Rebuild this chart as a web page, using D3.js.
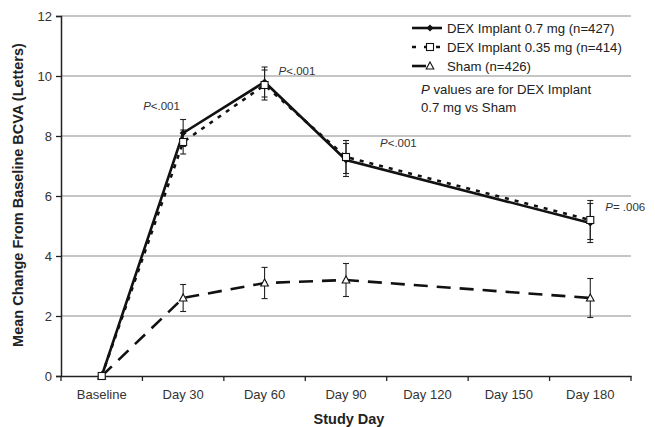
<!DOCTYPE html>
<html>
<head>
<meta charset="utf-8">
<script src="https://cdn.jsdelivr.net/npm/d3@7"></script>
<style>
  body { margin: 0; background: #fff; }
  svg { display: block; font-family: 'Liberation Sans', Arial, sans-serif; }
</style>
</head>
<body>
<div id="chart"></div>
<script>
// Categories on the x axis
const categories = ['Baseline', 'Day 30', 'Day 60', 'Day 90', 'Day 120', 'Day 150', 'Day 180'];
// Days where a measurement exists
const measuredDays = ['Baseline', 'Day 30', 'Day 60', 'Day 90', 'Day 180'];

// Mean change from baseline BCVA (letters)
const dex07 = [0, 8.1, 9.8, 7.2, 5.1];
const dex035 = [0, 7.8, 9.7, 7.3, 5.2];
const sham = [0, 2.6, 3.1, 3.2, 2.6];

// Error bar half-widths
const dex07Err = [0, 0.45, 0.5, 0.55, 0.65];
const dex035Err = [0, 0.4, 0.5, 0.55, 0.65];
const shamErr = [0, 0.45, 0.52, 0.55, 0.65];

const yTicks = [0, 2, 4, 6, 8, 10, 12];
const legendLabels = ['DEX Implant 0.7 mg (n=427)', 'DEX Implant 0.35 mg (n=414)', 'Sham (n=426)'];

// P value annotations
const pDays = ['Day 30', 'Day 60', 'Day 90', 'Day 180'];
const pTexts = ['<.001', '<.001', '<.001', '= .006'];
const pValues = [8.87, 10.03, 7.63, 5.5];

const svgWidth = 655;
const svgHeight = 427;
const margin = { top: 16, right: 24, bottom: 51, left: 61 };
const width = svgWidth - margin.left - margin.right;
const height = svgHeight - margin.top - margin.bottom;

const svg = d3.select('#chart')
  .append('svg')
  .attr('width', svgWidth)
  .attr('height', svgHeight);

const chartGroup = svg.append('g')
  .attr('transform', `translate(${margin.left}, ${margin.top})`);

const xScale = d3.scaleBand()
  .domain(categories)
  .range([0, width]);

const yScale = d3.scaleLinear()
  .domain([0, 12])
  .range([height, 0]);

const xc = d => xScale(d) + xScale.bandwidth() / 2;

// Gridlines
chartGroup.selectAll('.grid')
  .data(yTicks.filter(t => t > 0))
  .enter()
  .append('line')
  .attr('x1', 0)
  .attr('x2', width)
  .attr('y1', d => yScale(d))
  .attr('y2', d => yScale(d))
  .attr('stroke', '#8c8c8c')
  .attr('stroke-width', 1.2);

// Y axis
const leftAxis = d3.axisLeft(yScale).tickValues(yTicks).tickSize(5).tickPadding(4);
const yAxis = chartGroup.append('g').call(leftAxis);
yAxis.select('.domain').attr('stroke', '#222').attr('stroke-width', 1.5);
yAxis.selectAll('.tick line').attr('stroke', '#222').attr('stroke-width', 1.3);
yAxis.selectAll('text').attr('font-size', '13px').attr('fill', '#333')
  .attr('font-family', "'Liberation Sans', Arial, sans-serif");

// X axis
const bottomAxis = d3.axisBottom(xScale).tickSize(0).tickPadding(14);
const xAxis = chartGroup.append('g')
  .attr('transform', `translate(0, ${height})`)
  .call(bottomAxis);
xAxis.select('.domain').attr('stroke', '#222').attr('stroke-width', 1.5);
xAxis.selectAll('text').attr('font-size', '13px').attr('fill', '#333')
  .attr('font-family', "'Liberation Sans', Arial, sans-serif");

// Tick marks between categories
xAxis.selectAll('.bound')
  .data(d3.range(categories.length + 1))
  .enter()
  .append('line')
  .attr('x1', i => i * xScale.step())
  .attr('x2', i => i * xScale.step())
  .attr('y1', 0)
  .attr('y2', 5)
  .attr('stroke', '#222')
  .attr('stroke-width', 1.3);

// Axis titles
chartGroup.append('text')
  .attr('x', width / 2 + 3)
  .attr('y', height + 48)
  .attr('text-anchor', 'middle')
  .attr('font-size', '14.5px')
  .attr('font-weight', 'bold')
  .attr('fill', '#222')
  .text('Study Day');

chartGroup.append('text')
  .attr('transform', `translate(${-38}, ${height / 2 - 1}) rotate(-90)`)
  .attr('text-anchor', 'middle')
  .attr('font-size', '14.5px')
  .attr('font-weight', 'bold')
  .attr('fill', '#222')
  .text('Mean Change From Baseline BCVA (Letters)');

// Series definitions
const series = [
  { values: dex07, err: dex07Err, dash: null, marker: 'diamond' },
  { values: dex035, err: dex035Err, dash: '4,6', marker: 'square' },
  { values: sham, err: shamErr, dash: '14,9', marker: 'triangle' }
];

const line = d3.line()
  .x(d => xc(d.day))
  .y(d => yScale(d.value));

const pointsOf = s => measuredDays.map((day, i) => ({ day: day, value: s.values[i], err: s.err[i] }));

// Lines (sham first, solid on top)
[2, 1, 0].forEach(k => {
  const s = series[k];
  chartGroup.append('path')
    .datum(pointsOf(s))
    .attr('d', line)
    .attr('fill', 'none')
    .attr('stroke', '#111')
    .attr('stroke-width', 2.6)
    .attr('stroke-dasharray', s.dash);
});

// Error bars
series.forEach(s => {
  const pts = pointsOf(s).filter(d => d.err > 0);
  const g = chartGroup.append('g').attr('stroke', '#222').attr('stroke-width', 1.1);
  g.selectAll('.ev')
    .data(pts)
    .enter()
    .append('line')
    .attr('x1', d => xc(d.day))
    .attr('x2', d => xc(d.day))
    .attr('y1', d => yScale(d.value - d.err))
    .attr('y2', d => yScale(d.value + d.err));
  g.selectAll('.cap')
    .data(pts.flatMap(d => [d.value - d.err, d.value + d.err].map(v => ({ day: d.day, v: v }))))
    .enter()
    .append('line')
    .attr('x1', d => xc(d.day) - 3)
    .attr('x2', d => xc(d.day) + 3)
    .attr('y1', d => yScale(d.v))
    .attr('y2', d => yScale(d.v));
});

// Markers
function drawMarker(g, type, x, y) {
  if (type === 'diamond') {
    g.append('path')
      .attr('d', `M${x},${y - 3.5}L${x + 3.5},${y}L${x},${y + 3.5}L${x - 3.5},${y}Z`)
      .attr('fill', '#111');
  } else if (type === 'square') {
    g.append('rect')
      .attr('x', x - 3.5).attr('y', y - 3.5)
      .attr('width', 7).attr('height', 7)
      .attr('fill', '#fff').attr('stroke', '#111').attr('stroke-width', 1.1);
  } else {
    g.append('path')
      .attr('d', `M${x},${y - 4}L${x + 3.8},${y + 3}L${x - 3.8},${y + 3}Z`)
      .attr('fill', '#fff').attr('stroke', '#111').attr('stroke-width', 1.1);
  }
}

[2, 0, 1].forEach(k => {
  const s = series[k];
  const g = chartGroup.append('g');
  pointsOf(s).forEach(d => drawMarker(g, s.marker, xc(d.day), yScale(d.value)));
});

// P value annotations
const pOffsets = [-40, 14, 34, 15];
pDays.forEach((day, i) => {
  const t = chartGroup.append('text')
    .attr('x', xc(day) + pOffsets[i])
    .attr('y', yScale(pValues[i]))
    .attr('font-size', '11.5px')
    .attr('fill', '#333');
  t.append('tspan').attr('font-style', 'italic').text('P');
  t.append('tspan').text(pTexts[i]);
});

// Legend
const legend = svg.append('g');
const legendX = 412;
const legendY = [28, 47, 66];
series.forEach((s, i) => {
  const y = legendY[i];
  legend.append('line')
    .attr('x1', legendX).attr('x2', legendX + 30)
    .attr('y1', y).attr('y2', y)
    .attr('stroke', '#111')
    .attr('stroke-width', 2.6)
    .attr('stroke-dasharray', s.dash ? (i === 1 ? '4,8' : '14,20') : null);
  drawMarker(legend, s.marker, legendX + 18, y);
  legend.append('text')
    .attr('x', legendX + 35)
    .attr('y', y + 4.5)
    .attr('font-size', '13.2px')
    .attr('fill', '#222')
    .text(legendLabels[i]);
});

const note = svg.append('text')
  .attr('x', 421)
  .attr('y', 93.5)
  .attr('font-size', '13.2px')
  .attr('fill', '#222');
note.append('tspan').attr('font-style', 'italic').text('P');
note.append('tspan').text('  values are for DEX Implant');
svg.append('text')
  .attr('x', 421)
  .attr('y', 111.5)
  .attr('font-size', '13.2px')
  .attr('fill', '#222')
  .text('0.7 mg vs Sham');
</script>
</body>
</html>
